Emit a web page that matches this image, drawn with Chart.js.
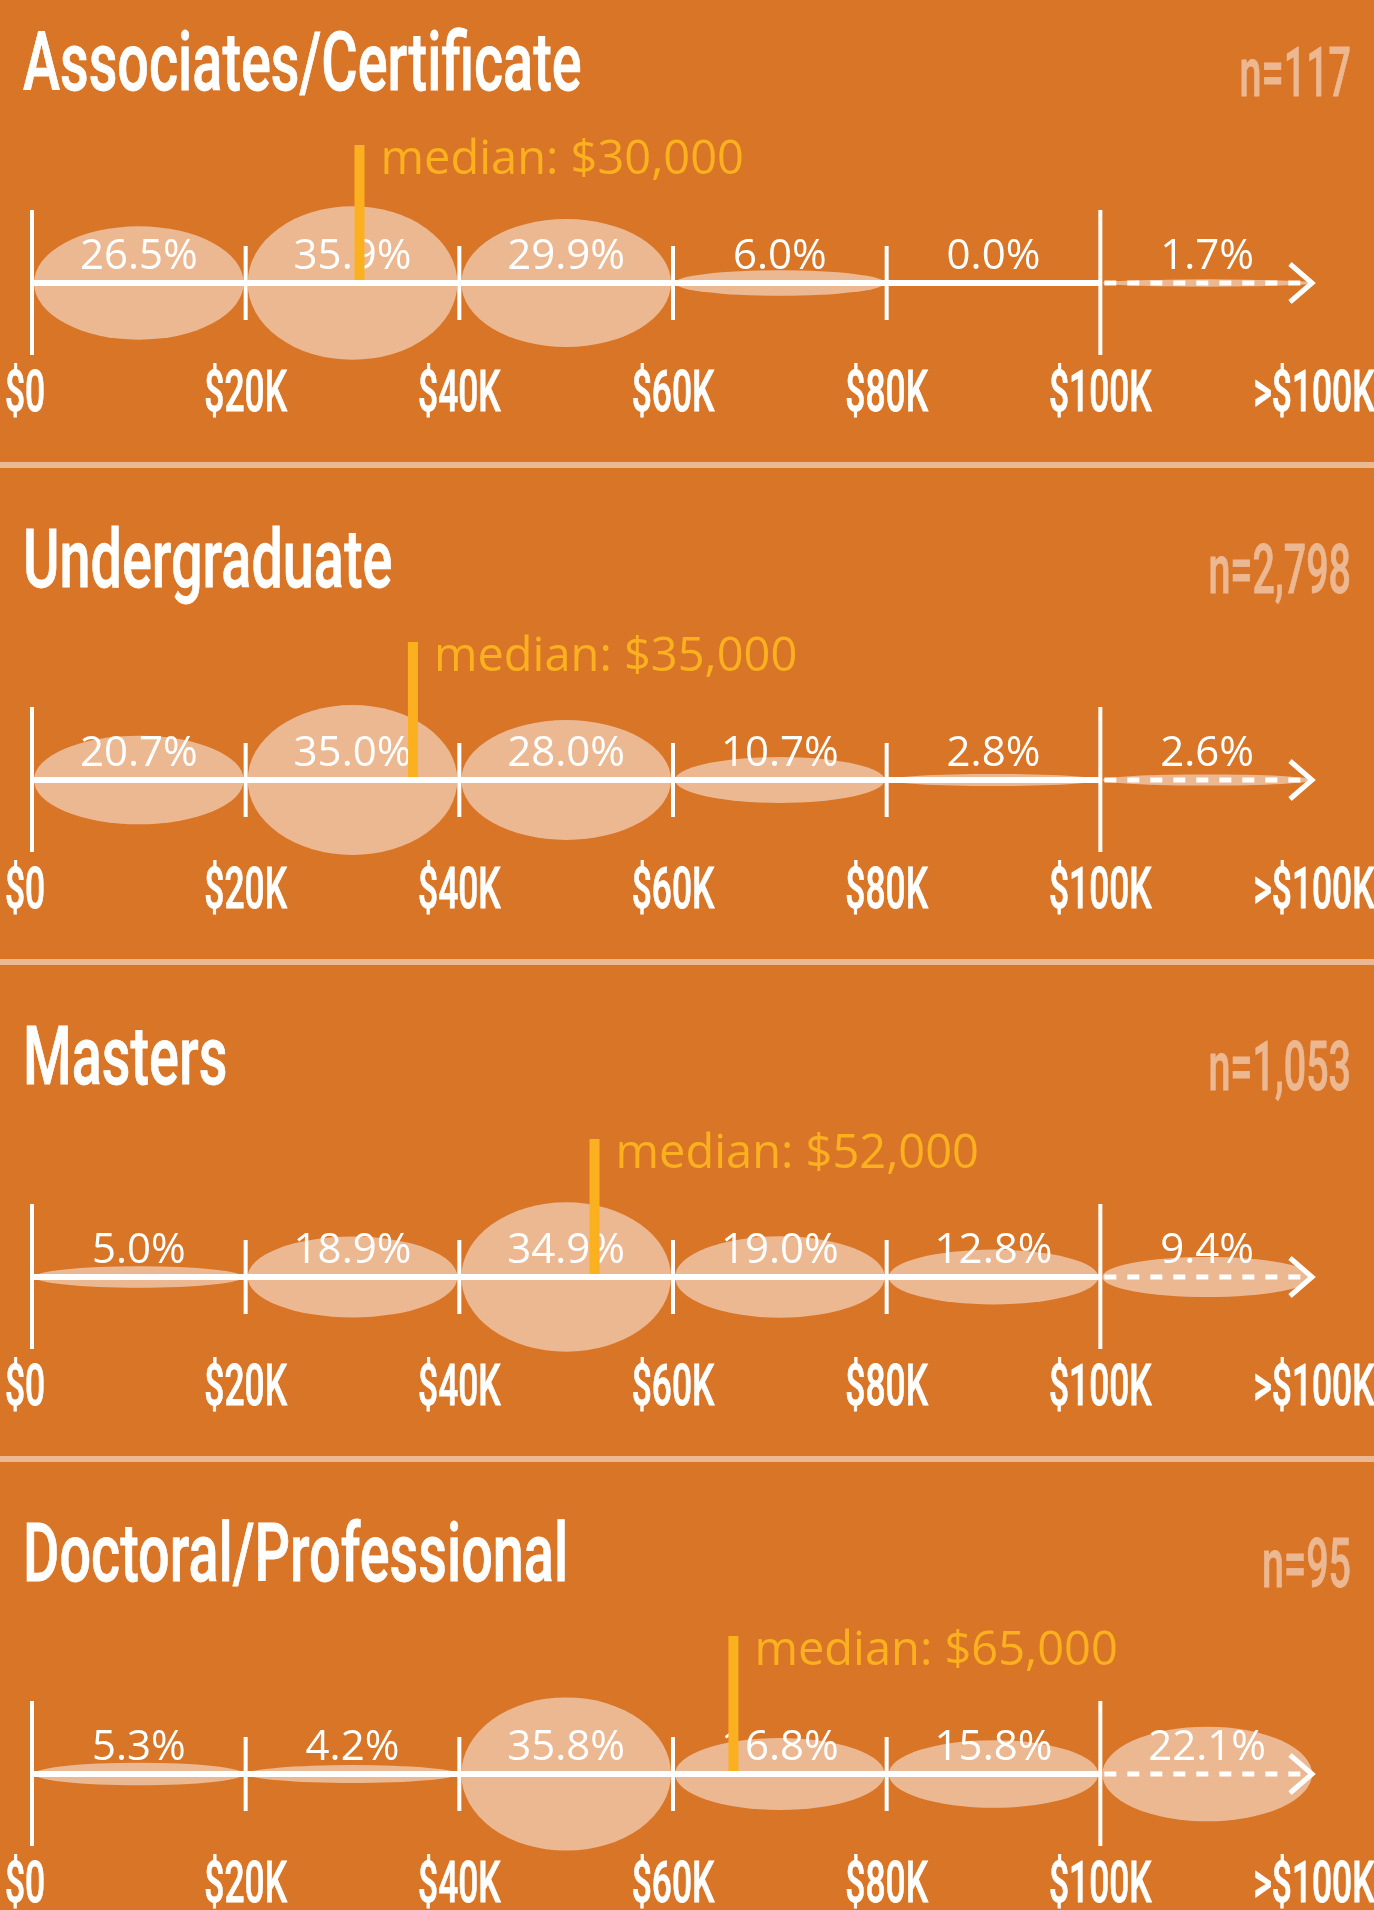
<!DOCTYPE html>
<html>
<head>
<meta charset="utf-8">
<script src="https://cdn.jsdelivr.net/npm/chart.js@4.4.1/dist/chart.umd.min.js"></script>
<style>
    html, body { margin: 0; padding: 0; background: #d97527; overflow: hidden; }
    body { width: 1374px; height: 1910px; }
    .panel { width: 1374px; height: 497px; }
    canvas { display: block; }
</style>
</head>
<body>
<div class="panel"><canvas id="c0" width="1374" height="497"></canvas></div>
<div class="panel"><canvas id="c1" width="1374" height="497"></canvas></div>
<div class="panel"><canvas id="c2" width="1374" height="497"></canvas></div>
<div class="panel"><canvas id="c3" width="1374" height="497"></canvas></div>
<script>
// Data
const panelTitles = ['Associates/Certificate', 'Undergraduate', 'Masters', 'Doctoral/Professional'];
const sampleSizes = ['n=117', 'n=2,798', 'n=1,053', 'n=95'];
const medians = [30000, 35000, 52000, 65000];
const binStarts = [0, 20, 40, 60, 80, 100]; // $K, last bin is >$100K
const associatesPct = [26.5, 35.9, 29.9, 6.0, 0.0, 1.7];
const undergradPct = [20.7, 35.0, 28.0, 10.7, 2.8, 2.6];
const mastersPct = [5.0, 18.9, 34.9, 19.0, 12.8, 9.4];
const doctoralPct = [5.3, 4.2, 35.8, 16.8, 15.8, 22.1];
const tickValues = [0, 20, 40, 60, 80, 100, 120];
const tickLabels = ['$0', '$20K', '$40K', '$60K', '$80K', '$100K', '>$100K'];

const allPct = [associatesPct, undergradPct, mastersPct, doctoralPct];
const BIN = 20;

// Colors
const PEACH = '#ecb892';
const WHITE = '#ffffff';
const GOLD = '#fbb020';

// tall narrow text, squeezed horizontally
function condensedText(ctx, text, x, y, size, sx, align, color) {
    ctx.save();
    ctx.font = '500 ' + size + 'px Roboto';
    ctx.translate(x, y);
    ctx.scale(sx, 1);
    ctx.textAlign = align;
    ctx.textBaseline = 'alphabetic';
    ctx.fillStyle = color;
    ctx.strokeStyle = color;
    ctx.lineWidth = 0.8;
    ctx.fillText(text, 0, 0);
    ctx.strokeText(text, 0, 0);
    ctx.restore();
}

const salaryDrawing = {
    id: 'salaryDrawing',
    beforeDatasetsDraw(chart, args, opts) {
        const ctx = chart.ctx;
        const xs = chart.scales.x;
        const ys = chart.scales.y;
        const y0 = ys.getPixelForValue(0);
        ctx.save();
        // divider under the panel
        if (opts.divider) {
            ctx.fillStyle = PEACH;
            ctx.fillRect(0, y0 + 179, chart.width, 6);
        }
        // ellipses, height grows with the share
        ctx.fillStyle = PEACH;
        chart.data.datasets[0].data.forEach((p) => {
            const cx = xs.getPixelForValue(p.x);
            const rx = (xs.getPixelForValue(p.x + BIN / 2) - xs.getPixelForValue(p.x - BIN / 2)) / 2 - 2;
            const ry = y0 - ys.getPixelForValue(p.y);
            if (ry <= 0) return;
            ctx.beginPath();
            ctx.ellipse(cx, y0, rx, ry, 0, 0, Math.PI * 2);
            ctx.fill();
        });
        ctx.restore();
    },
    afterDatasetsDraw(chart, args, opts) {
        const ctx = chart.ctx;
        const xs = chart.scales.x;
        const ys = chart.scales.y;
        const y0 = ys.getPixelForValue(0);
        const xEnd = xs.getPixelForValue(tickValues[tickValues.length - 1]);
        const x100 = xs.getPixelForValue(100);
        ctx.save();

        // percent labels
        ctx.font = '400 42px "Open Sans"';
        ctx.textAlign = 'center';
        ctx.textBaseline = 'alphabetic';
        ctx.fillStyle = WHITE;
        chart.data.datasets[0].data.forEach((p) => {
            ctx.fillText(p.y.toFixed(1) + '%', xs.getPixelForValue(p.x), y0 - 14);
        });

        // median marker
        const mx = xs.getPixelForValue(opts.median / 1000);
        ctx.fillStyle = GOLD;
        ctx.fillRect(mx + 2, y0 - 138, 10, 138);
        ctx.font = '400 47px "Open Sans"';
        ctx.textAlign = 'left';
        ctx.fillText('median: $' + opts.median.toLocaleString('en-US'), mx + 28, y0 - 109);

        // axis line
        ctx.strokeStyle = WHITE;
        ctx.lineWidth = 6;
        ctx.beginPath();
        ctx.moveTo(xs.getPixelForValue(0), y0);
        ctx.lineTo(x100, y0);
        ctx.stroke();
        ctx.lineWidth = 5;
        ctx.setLineDash([12, 11]);
        ctx.beginPath();
        ctx.moveTo(x100 + 4, y0);
        ctx.lineTo(xEnd - 6, y0);
        ctx.stroke();
        ctx.setLineDash([]);
        // arrow head
        ctx.beginPath();
        ctx.moveTo(xEnd - 24, y0 - 19);
        ctx.lineTo(xEnd - 2, y0);
        ctx.lineTo(xEnd - 24, y0 + 19);
        ctx.stroke();

        // ticks and labels
        tickValues.forEach((v, i) => {
            const tx = xs.getPixelForValue(v);
            if (i < tickValues.length - 1) {
                const tall = v === 0 || v === 100;
                ctx.fillStyle = WHITE;
                if (tall) {
                    ctx.fillRect(tx - 2, y0 - 73, 4, 145);
                } else {
                    ctx.fillRect(tx - 2, y0 - 37, 4, 74);
                }
            }
            // first label hugs the left edge
            if (i === 0) {
                condensedText(ctx, tickLabels[i], 5, y0 + 128, 57, 0.62, 'left', WHITE);
            } else {
                condensedText(ctx, tickLabels[i], tx, y0 + 128, 57, 0.62, 'center', WHITE);
            }
        });

        // title and sample size
        condensedText(ctx, opts.title, 23, y0 - 193, 82, 0.68, 'left', WHITE);
        condensedText(ctx, opts.n, 1351, y0 - 187, 68, 0.58, 'right', PEACH);

        ctx.restore();
    },
};

for (let i = 0; i < panelTitles.length; i++) {
    new Chart(document.getElementById('c' + i), {
        type: 'scatter',
        data: {
            datasets: [{
                label: panelTitles[i],
                data: binStarts.map((b, j) => ({ x: b + BIN / 2, y: allPct[i][j] })),
                pointRadius: 0,
                pointHoverRadius: 0,
            }],
        },
        options: {
            responsive: false,
            animation: false,
            layout: {
                padding: { left: 32, right: 60, top: 69, bottom: 0 },
            },
            scales: {
                x: { type: 'linear', min: 0, max: 120, display: false },
                y: { type: 'linear', min: -100, max: 100, display: false },
            },
            plugins: {
                legend: { display: false },
                tooltip: { enabled: false },
                salaryDrawing: {
                    title: panelTitles[i],
                    n: sampleSizes[i],
                    median: medians[i],
                    divider: i < panelTitles.length - 1,
                },
            },
        },
        plugins: [salaryDrawing],
    });
}
</script>
</body>
</html>
